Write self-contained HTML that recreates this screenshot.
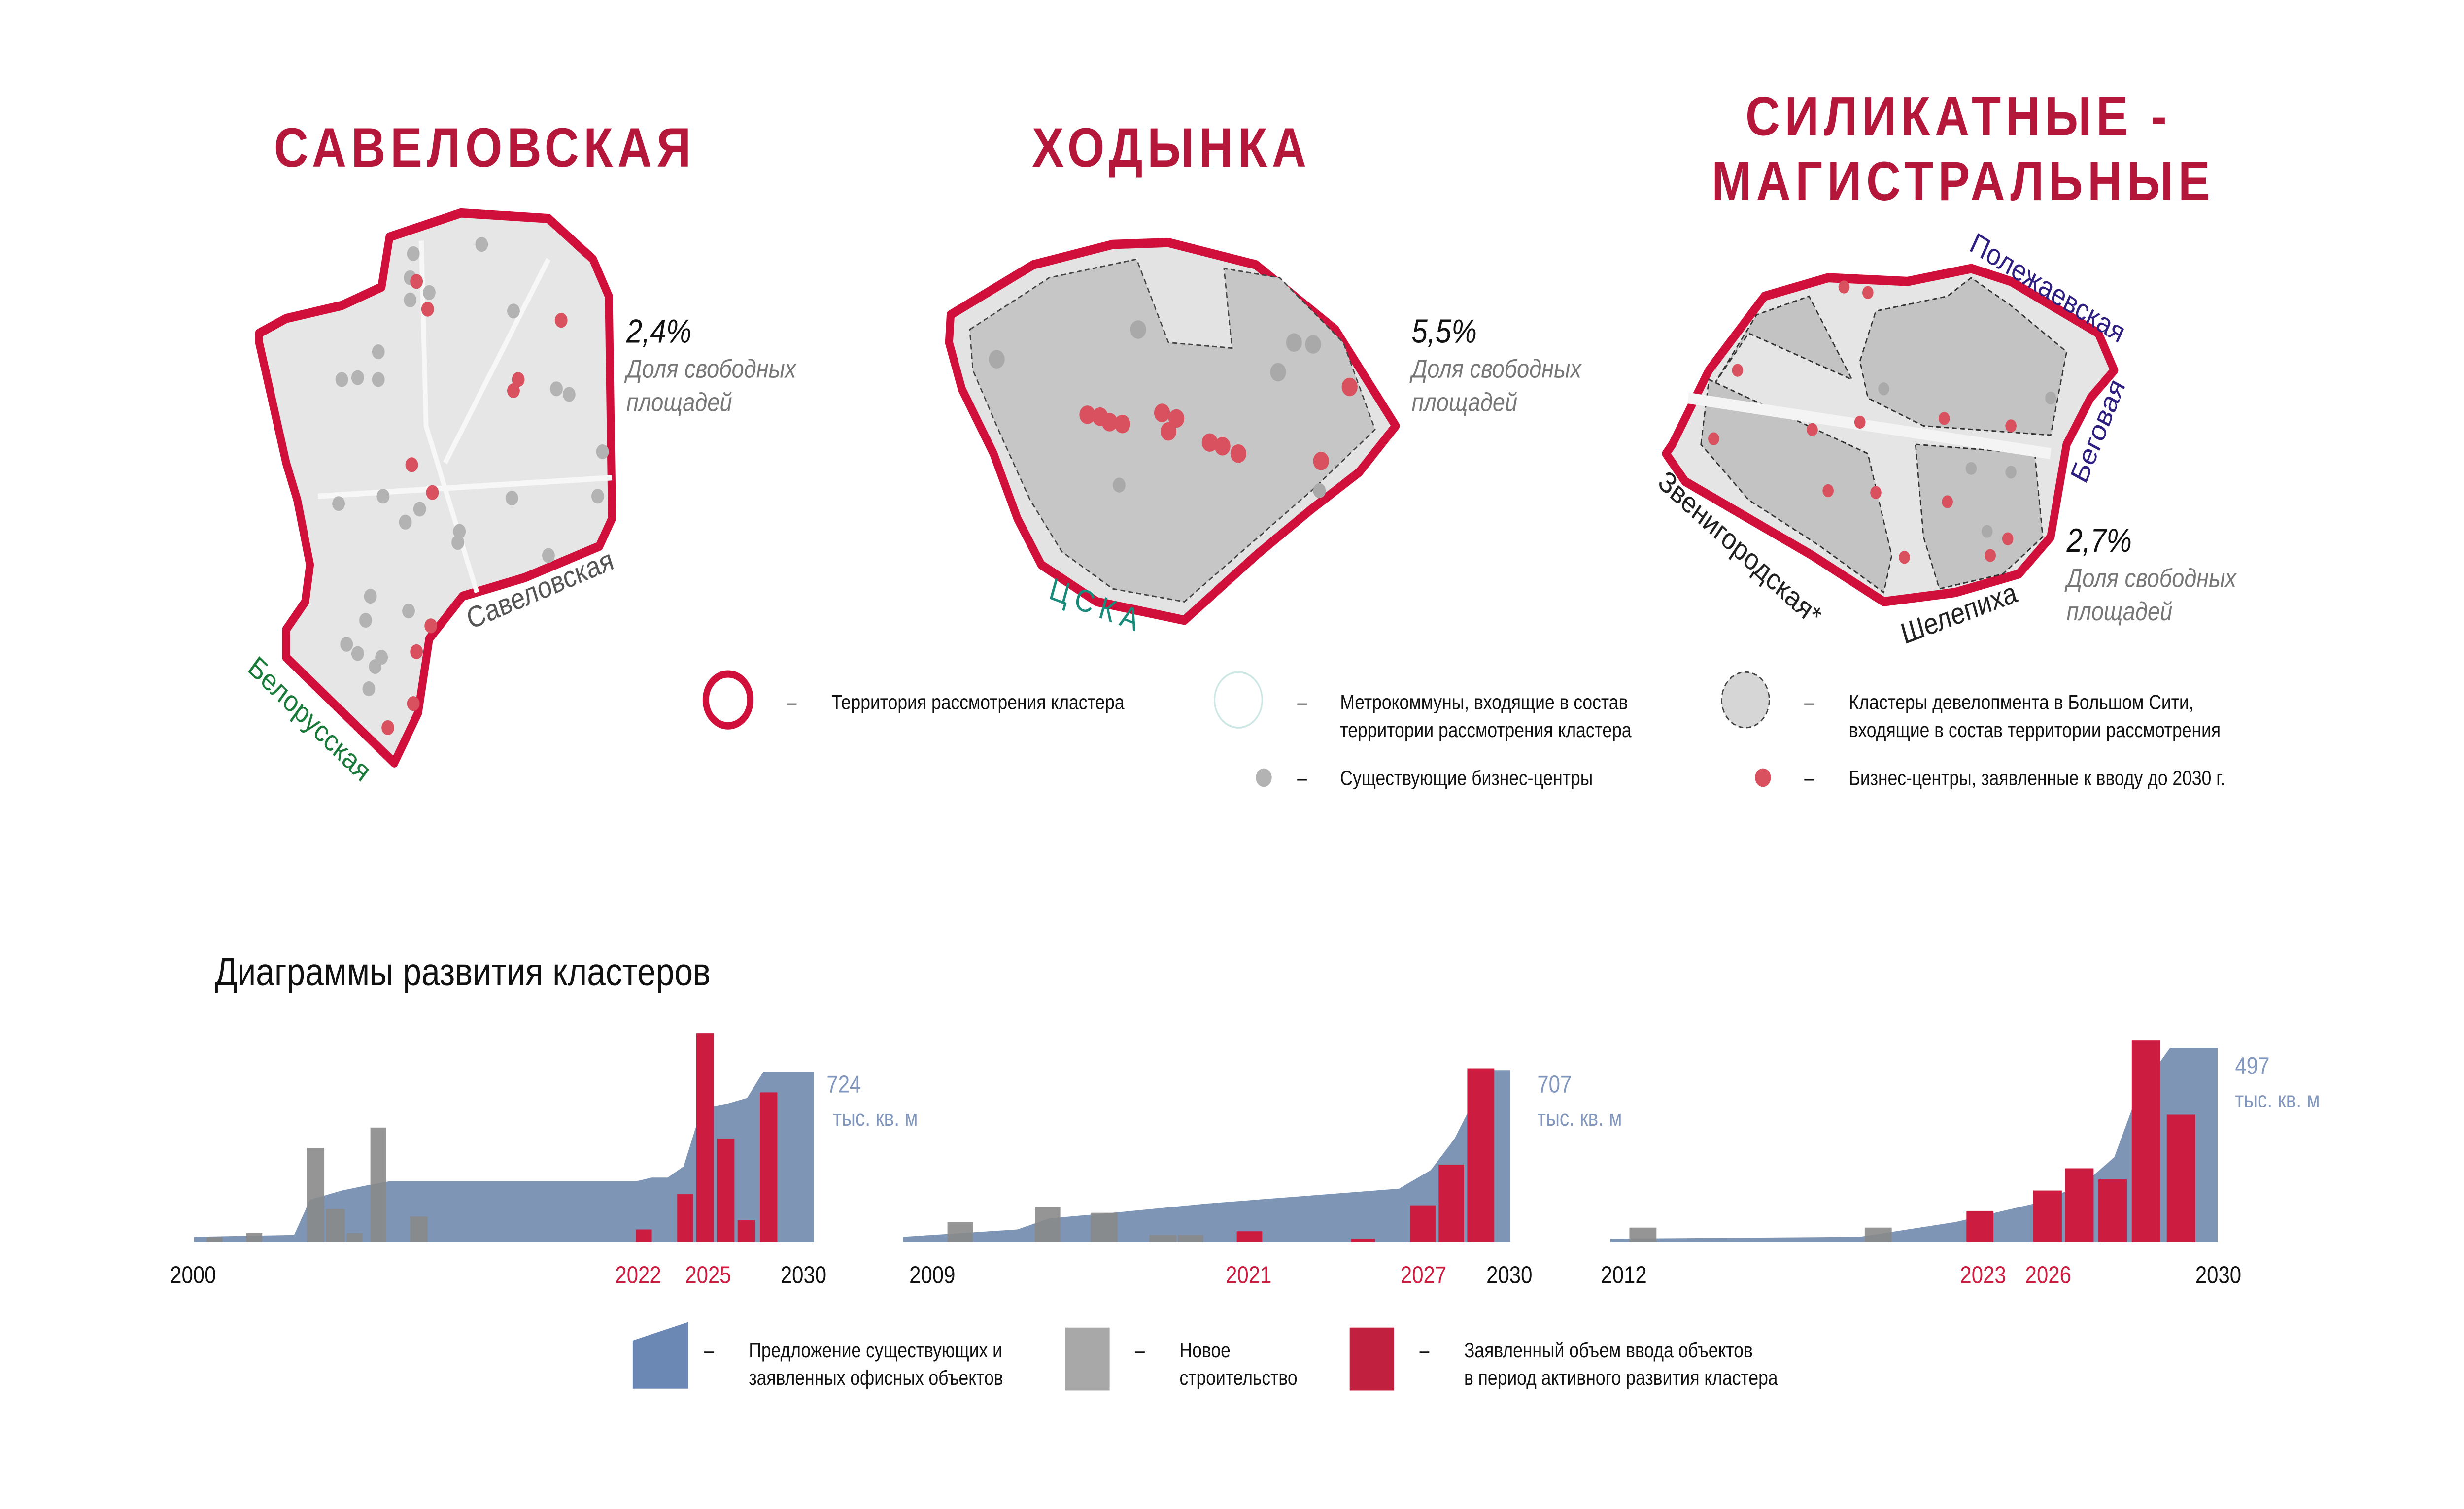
<!DOCTYPE html>
<html><head><meta charset="utf-8"><style>
html,body{margin:0;padding:0;background:#fff;width:100vw;height:100vh;overflow:hidden;}
svg{display:block;width:100vw;height:100vh;}
text{font-family:"Liberation Sans","DejaVu Sans",sans-serif;}
</style></head><body>
<svg viewBox="0 0 1550 815" preserveAspectRatio="none" xmlns="http://www.w3.org/2000/svg">
<rect width="1550" height="815" fill="#fff"/>
<g fill="#b5173a" font-weight="bold" font-size="30" letter-spacing="3" text-anchor="middle">
<text x="305" y="90">САВЕЛОВСКАЯ</text>
<text x="737" y="90">ХОДЫНКА</text>
<text x="1232" y="73">СИЛИКАТНЫЕ -</text>
<text x="1235" y="108">МАГИСТРАЛЬНЫЕ</text>
</g>

<polygon points="245,128 290,115 345,118 373,140 383,160 385,280 377,295 330,312 291,322 270,345 263,385 248,412 180,355 180,340 192,325 195,305 187,270 180,250 163,185 163,180 180,172 215,165 240,155" fill="#e6e6e6" stroke="#d0103a" stroke-width="5" stroke-linejoin="round"/>
<path d="M200,268 L385,258 M265,130 L268,230 L300,320 M345,140 L280,250" stroke="#f7f7f7" stroke-width="3" fill="none"/>
<g fill="#b3b3b3">
<circle cx="260" cy="137" r="4"/><circle cx="258" cy="150" r="4"/><circle cx="270" cy="158" r="4"/><circle cx="258" cy="162" r="4"/>
<circle cx="303" cy="132" r="4"/><circle cx="323" cy="168" r="4"/><circle cx="238" cy="190" r="4"/><circle cx="225" cy="204" r="4"/>
<circle cx="215" cy="205" r="4"/><circle cx="238" cy="205" r="4"/><circle cx="350" cy="210" r="4"/><circle cx="358" cy="213" r="4"/>
<circle cx="379" cy="244" r="4"/><circle cx="376" cy="268" r="4"/><circle cx="213" cy="272" r="4"/><circle cx="241" cy="268" r="4"/>
<circle cx="264" cy="275" r="4"/><circle cx="255" cy="282" r="4"/><circle cx="289" cy="287" r="4"/><circle cx="288" cy="293" r="4"/>
<circle cx="322" cy="269" r="4"/><circle cx="345" cy="300" r="4"/><circle cx="233" cy="322" r="4"/><circle cx="230" cy="335" r="4"/>
<circle cx="218" cy="348" r="4"/><circle cx="225" cy="353" r="4"/><circle cx="240" cy="355" r="4"/><circle cx="236" cy="360" r="4"/><circle cx="232" cy="372" r="4"/><circle cx="257" cy="330" r="4"/>
</g>
<g fill="#d9505f">
<circle cx="262" cy="152" r="4"/><circle cx="269" cy="167" r="4"/><circle cx="353" cy="173" r="4"/><circle cx="326" cy="205" r="4"/><circle cx="323" cy="211" r="4"/>
<circle cx="259" cy="251" r="4"/><circle cx="272" cy="266" r="4"/><circle cx="271" cy="338" r="4"/><circle cx="262" cy="352" r="4"/><circle cx="260" cy="380" r="4"/><circle cx="244" cy="393" r="4"/>
</g>
<text x="394" y="185" font-size="18" font-style="italic" fill="#111">2,4%</text>
<text x="394" y="204" font-size="14" font-style="italic" fill="#777">Доля свободных</text>
<text x="394" y="222" font-size="14" font-style="italic" fill="#777">площадей</text>
<text x="296" y="340" font-size="16" fill="#555" transform="rotate(-20 296 340)">Савеловская</text>
<text x="155" y="362" font-size="16" fill="#1a7a3a" transform="rotate(40 155 362)">Белорусская</text>

<polygon points="598,170 650,143 700,132 735,131 790,143 840,178 878,230 855,255 825,275 790,300 745,335 690,325 655,305 640,280 625,245 605,210 597,185" fill="#e3e3e3" stroke="#d0103a" stroke-width="5" stroke-linejoin="round"/>
<polygon points="610,178 660,150 715,140 735,185 775,188 770,145 805,150 845,185 865,232 825,265 785,295 745,325 700,318 668,298 648,270 628,232 612,200" fill="#c6c6c6" stroke="#444" stroke-width="0.8" stroke-dasharray="3,2"/>
<g fill="#a9a9a9">
<circle cx="627" cy="194" r="5"/><circle cx="716" cy="178" r="5"/><circle cx="814" cy="185" r="5"/><circle cx="826" cy="186" r="5"/><circle cx="804" cy="201" r="5"/><circle cx="830" cy="265" r="4"/><circle cx="704" cy="262" r="4"/>
</g>
<g fill="#d9505f">
<circle cx="684" cy="224" r="5"/><circle cx="692" cy="225" r="5"/><circle cx="698" cy="228" r="5"/><circle cx="706" cy="229" r="5"/><circle cx="731" cy="223" r="5"/><circle cx="740" cy="226" r="5"/><circle cx="735" cy="233" r="5"/>
<circle cx="761" cy="239" r="5"/><circle cx="769" cy="241" r="5"/><circle cx="779" cy="245" r="5"/><circle cx="849" cy="209" r="5"/><circle cx="831" cy="249" r="5"/>
</g>
<text x="888" y="185" font-size="18" font-style="italic" fill="#111">5,5%</text>
<text x="888" y="204" font-size="14" font-style="italic" fill="#777">Доля свободных</text>
<text x="888" y="222" font-size="14" font-style="italic" fill="#777">площадей</text>
<text x="659" y="323" font-size="17" fill="#1a8a7a" letter-spacing="4" transform="rotate(18 659 323)">ЦСКА</text>

<polygon points="1052,240 1075,200 1110,160 1150,150 1200,152 1240,145 1265,152 1320,180 1330,200 1315,215 1300,240 1295,265 1290,290 1270,310 1230,320 1185,325 1140,300 1100,280 1060,260 1048,245" fill="#e5e5e5" stroke="#d0103a" stroke-width="5" stroke-linejoin="round"/>
<g fill="#c3c3c3" stroke="#333" stroke-width="0.8" stroke-dasharray="3,2">
<polygon points="1078,208 1105,170 1138,160 1165,205 1100,180"/>
<polygon points="1070,240 1075,205 1175,245 1190,300 1185,320 1145,295 1100,270"/>
<polygon points="1170,195 1180,168 1225,160 1240,150 1265,165 1300,190 1290,235 1210,230 1175,215"/>
<polygon points="1205,240 1280,245 1285,290 1260,310 1220,318 1210,290"/>
</g>
<path d="M1062,215 L1290,245" stroke="#f4f4f4" stroke-width="6"/>
<g fill="#d9505f">
<circle cx="1160" cy="155" r="3.5"/><circle cx="1175" cy="158" r="3.5"/><circle cx="1093" cy="200" r="3.5"/><circle cx="1140" cy="232" r="3.5"/><circle cx="1223" cy="226" r="3.5"/><circle cx="1265" cy="230" r="3.5"/>
<circle cx="1078" cy="237" r="3.5"/><circle cx="1170" cy="228" r="3.5"/><circle cx="1150" cy="265" r="3.5"/><circle cx="1180" cy="266" r="3.5"/><circle cx="1225" cy="271" r="3.5"/><circle cx="1263" cy="291" r="3.5"/><circle cx="1252" cy="300" r="3.5"/><circle cx="1198" cy="301" r="3.5"/>
</g>
<g fill="#aaa"><circle cx="1240" cy="253" r="3.5"/><circle cx="1265" cy="255" r="3.5"/><circle cx="1250" cy="287" r="3.5"/><circle cx="1185" cy="210" r="3.5"/><circle cx="1290" cy="215" r="3.5"/></g>
<text x="1300" y="298" font-size="18" font-style="italic" fill="#111">2,7%</text>
<text x="1300" y="317" font-size="14" font-style="italic" fill="#777">Доля свободных</text>
<text x="1300" y="335" font-size="14" font-style="italic" fill="#777">площадей</text>
<text x="1238" y="135" font-size="16" fill="#2e1f80" transform="rotate(28 1238 135)">Полежаевская</text>
<text x="1312" y="262" font-size="16" fill="#2e1f80" transform="rotate(-65 1312 262)">Беговая</text>
<text x="1042" y="262" font-size="16" fill="#222" transform="rotate(38 1042 262)">Звенигородская*</text>
<text x="1198" y="348" font-size="16" fill="#222" transform="rotate(-18 1198 348)">Шелепиха</text>

<circle cx="458" cy="378" r="14" fill="none" stroke="#d0103a" stroke-width="4"/>
<g font-size="11" fill="#111">
<text x="495" y="383">–</text><text x="523" y="383">Территория рассмотрения кластера</text>
<circle cx="779" cy="378" r="15" fill="none" stroke="#cde8e4" stroke-width="1"/>
<text x="816" y="383">–</text><text x="843" y="383">Метрокоммуны, входящие в состав</text><text x="843" y="398">территории рассмотрения кластера</text>
<circle cx="1098" cy="378" r="15" fill="#d6d6d6" stroke="#444" stroke-width="0.8" stroke-dasharray="3,2"/>
<text x="1135" y="383">–</text><text x="1163" y="383">Кластеры девелопмента в Большом Сити,</text><text x="1163" y="398">входящие в состав территории рассмотрения</text>
<circle cx="795" cy="420" r="5" fill="#b3b3b3"/>
<text x="816" y="424">–</text><text x="843" y="424">Существующие бизнес-центры</text>
<circle cx="1109" cy="420" r="5" fill="#d9505f"/>
<text x="1135" y="424">–</text><text x="1163" y="424">Бизнес-центры, заявленные к вводу до 2030 г.</text>
</g>

<text x="135" y="532" font-size="21" fill="#111">Диаграммы развития кластеров</text>

<polygon points="122,671 122,668 185,667 195,648 215,643 232,640 245,638 262,638 400,638 410,636 420,636 430,630 438,608 445,598 458,596 470,593 480,579 512,579 512,671" fill="#7f95b5"/>
<g fill="#8a8a8a" opacity="0.9">
<rect x="130" y="668" width="10" height="3"/><rect x="155" y="666" width="10" height="5"/><rect x="193" y="620" width="11" height="51"/><rect x="205" y="653" width="12" height="18"/><rect x="218" y="666" width="10" height="5"/><rect x="233" y="609" width="10" height="62"/><rect x="258" y="657" width="11" height="14"/>
</g>
<g fill="#cc1d40">
<rect x="400" y="664" width="10" height="7"/><rect x="426" y="645" width="10" height="26"/><rect x="438" y="558" width="11" height="113"/><rect x="451" y="615" width="11" height="56"/><rect x="464" y="659" width="11" height="12"/><rect x="478" y="590" width="11" height="81"/>
</g>
<g font-size="13"><text x="107" y="693" fill="#111">2000</text><text x="387" y="693" fill="#cc1d40">2022</text><text x="431" y="693" fill="#cc1d40">2025</text><text x="491" y="693" fill="#111">2030</text></g>
<text x="520" y="590" font-size="13" fill="#8297bd">724</text><text x="524" y="608" font-size="12" fill="#8297bd">тыс. кв. м</text>

<polygon points="568,671 568,668 640,664 660,658 700,655 760,650 820,646 880,642 900,632 915,615 925,598 935,578 950,578 950,671" fill="#7f95b5"/>
<g fill="#8a8a8a" opacity="0.9">
<rect x="596" y="660" width="16" height="11"/><rect x="651" y="652" width="16" height="19"/><rect x="686" y="655" width="17" height="16"/><rect x="723" y="667" width="17" height="4"/><rect x="741" y="667" width="16" height="4"/>
</g>
<g fill="#cc1d40">
<rect x="778" y="665" width="16" height="6"/><rect x="850" y="669" width="15" height="2"/><rect x="887" y="651" width="16" height="20"/><rect x="905" y="629" width="16" height="42"/><rect x="923" y="577" width="17" height="94"/>
</g>
<g font-size="13"><text x="572" y="693" fill="#111">2009</text><text x="771" y="693" fill="#cc1d40">2021</text><text x="881" y="693" fill="#cc1d40">2027</text><text x="935" y="693" fill="#111">2030</text></g>
<text x="967" y="590" font-size="13" fill="#8297bd">707</text><text x="967" y="608" font-size="12" fill="#8297bd">тыс. кв. м</text>

<polygon points="1013,671 1013,669 1170,668 1200,664 1230,660 1280,650 1310,640 1330,625 1345,590 1365,566 1395,566 1395,671" fill="#7f95b5"/>
<g fill="#8a8a8a" opacity="0.9"><rect x="1025" y="663" width="17" height="8"/><rect x="1173" y="663" width="17" height="8"/></g>
<g fill="#cc1d40">
<rect x="1237" y="654" width="17" height="17"/><rect x="1279" y="643" width="18" height="28"/><rect x="1299" y="631" width="18" height="40"/><rect x="1320" y="637" width="18" height="34"/><rect x="1341" y="562" width="18" height="109"/><rect x="1363" y="602" width="18" height="69"/>
</g>
<g font-size="13"><text x="1007" y="693" fill="#111">2012</text><text x="1233" y="693" fill="#cc1d40">2023</text><text x="1274" y="693" fill="#cc1d40">2026</text><text x="1381" y="693" fill="#111">2030</text></g>
<text x="1406" y="580" font-size="13" fill="#8297bd">497</text><text x="1406" y="598" font-size="12" fill="#8297bd">тыс. кв. м</text>

<polygon points="398,724 433,714 433,750 398,750" fill="#6a88b3"/>
<rect x="670" y="717" width="28" height="34" fill="#a8a8a8"/>
<rect x="849" y="717" width="28" height="34" fill="#c1213f"/>
<g font-size="11" fill="#111">
<text x="443" y="733">–</text><text x="471" y="733">Предложение существующих и</text><text x="471" y="748">заявленных офисных объектов</text>
<text x="714" y="733">–</text><text x="742" y="733">Новое</text><text x="742" y="748">строительство</text>
<text x="893" y="733">–</text><text x="921" y="733">Заявленный объем ввода объектов</text><text x="921" y="748">в период активного развития кластера</text>
</g>
</svg>
</body></html>
